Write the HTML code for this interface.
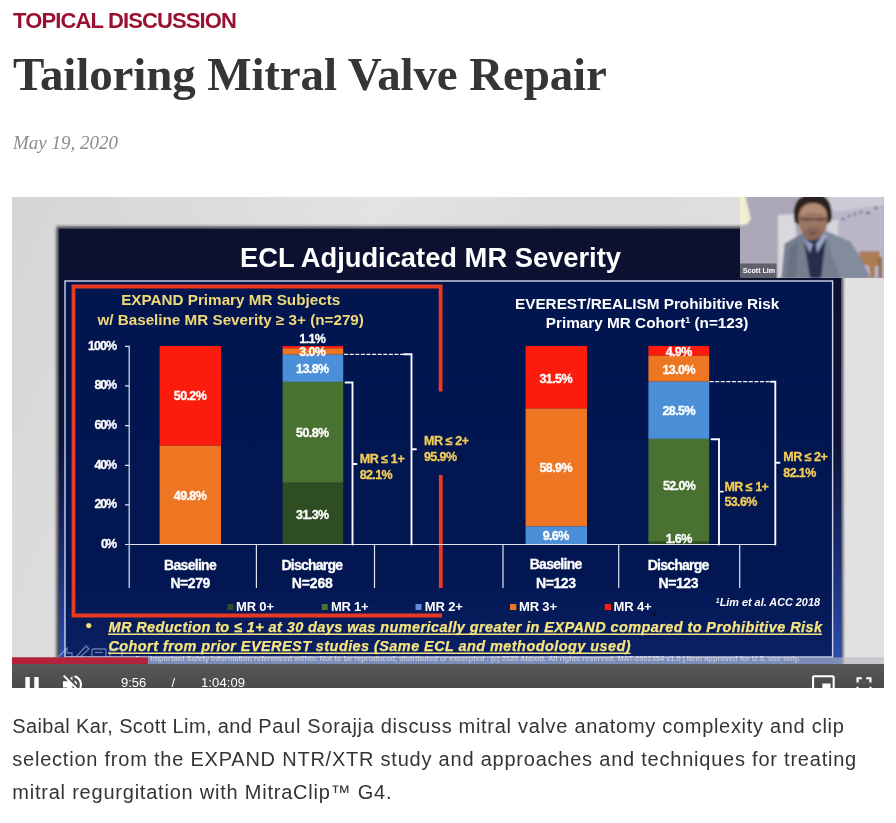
<!DOCTYPE html>
<html lang="en">
<head>
<meta charset="utf-8">
<title>Tailoring Mitral Valve Repair</title>
<style>
html,body{margin:0;padding:0;background:#fff;}
body{width:896px;height:823px;position:relative;overflow:hidden;font-family:"Liberation Sans",sans-serif;}
.abs{position:absolute;white-space:nowrap;}
#kicker{left:13px;top:8px;font-weight:bold;font-size:22px;line-height:26px;color:#9a1032;letter-spacing:-0.87px;}
#title{left:13px;top:46px;font-family:"Liberation Serif",serif;font-weight:bold;font-size:47px;line-height:56px;color:#353535;margin:0;letter-spacing:-0.13px;}
#date{left:13px;top:132px;font-family:"Liberation Serif",serif;font-style:italic;font-size:19px;line-height:22px;color:#8c8c8c;}
#video{position:absolute;left:12px;top:197px;width:872px;height:491px;overflow:hidden;background:#dcdbdb;}
#video svg{position:absolute;left:0;top:0;display:block;}
#desc{position:absolute;left:12.3px;top:710px;width:880px;margin:0;font-size:20px;line-height:33px;color:#343434;letter-spacing:0.7px;}
#desc span{display:block;white-space:nowrap;}#desc i{font-style:normal;letter-spacing:0.38px;}#desc .l2{letter-spacing:0.775px;}#desc .l3{letter-spacing:0.775px;}
</style>
</head>
<body>
<div id="kicker" class="abs">TOPICAL DISCUSSION</div>
<h1 id="title" class="abs">Tailoring Mitral Valve Repair</h1>
<div id="date" class="abs">May 19, 2020</div>
<div id="video">
<svg width="872" height="491" viewBox="12 197 872 491" font-family="Liberation Sans, sans-serif">
<defs>
<linearGradient id="bgG" x1="0" y1="0" x2="1" y2="0.25">
<stop offset="0" stop-color="#d6d5d5"/><stop offset="0.22" stop-color="#dddcdc"/><stop offset="0.4" stop-color="#e4e3e3"/><stop offset="0.6" stop-color="#dddcdc"/><stop offset="1" stop-color="#e2e1e1"/>
</linearGradient>
<linearGradient id="ctlG" x1="0" y1="0" x2="0" y2="1"><stop offset="0" stop-color="#575757"/><stop offset="1" stop-color="#4b4b4b"/></linearGradient>
<filter id="b2" x="-5%" y="-5%" width="110%" height="110%"><feGaussianBlur stdDeviation="1.6"/></filter>
<filter id="b1" x="-10%" y="-10%" width="120%" height="120%"><feGaussianBlur stdDeviation="0.9"/></filter>
<filter id="b05" x="-5%" y="-5%" width="110%" height="110%"><feGaussianBlur stdDeviation="0.45"/></filter>
<linearGradient id="frG" gradientUnits="userSpaceOnUse" x1="0" y1="229" x2="0" y2="660"><stop offset="0" stop-color="#0c1030"/><stop offset="0.5" stop-color="#0d1338"/><stop offset="0.75" stop-color="#182a6e"/><stop offset="1" stop-color="#2c4eac"/></linearGradient>
<linearGradient id="pnG" gradientUnits="userSpaceOnUse" x1="0" y1="281" x2="0" y2="657"><stop offset="0" stop-color="#01154f"/><stop offset="0.8" stop-color="#021652"/><stop offset="1" stop-color="#0a2164"/></linearGradient>
<clipPath id="camClip"><rect x="740" y="197" width="144" height="81"/></clipPath>
</defs>
<rect x="12" y="197" width="872" height="491" fill="url(#bgG)"/>
<!-- slide -->
<rect x="56.5" y="226.500" width="786.5" height="470" fill="#14162c" opacity="0.8" filter="url(#b2)"/>
<rect x="59" y="229" width="782" height="470" fill="url(#frG)"/>
<rect x="65" y="281" width="767.6" height="376" fill="url(#pnG)" stroke="#cfd6ea" stroke-width="1.4"/>
<g filter="url(#b05)">
<text x="240" y="267" font-size="27" font-weight="bold" fill="#fff" textLength="381" lengthAdjust="spacingAndGlyphs">ECL Adjudicated MR Severity</text>
<!-- red frame -->
<path d="M440.6 391.5V286.5H73.5V615.5H442" fill="none" stroke="#ea3a22" stroke-width="3.8" stroke-linejoin="miter"/>
<path d="M440.8 475V588" fill="none" stroke="#ea3a22" stroke-width="3.8"/>
<!-- headings -->
<g font-weight="bold" font-size="14.5" fill="#f2d978">
<text x="121.2" y="305" textLength="219" lengthAdjust="spacingAndGlyphs">EXPAND Primary MR Subjects</text>
<text x="97.4" y="324.5" textLength="266.5" lengthAdjust="spacingAndGlyphs">w/ Baseline MR Severity ≥ 3+ (n=279)</text>
</g>
<g font-weight="bold" font-size="14.5" fill="#fff">
<text x="515" y="308.5" textLength="264.3" lengthAdjust="spacingAndGlyphs">EVEREST/REALISM Prohibitive Risk</text>
<text x="545.8" y="327.5" textLength="202.7" lengthAdjust="spacingAndGlyphs">Primary MR Cohort<tspan font-size="8.5" dy="-5">1</tspan><tspan dy="5"> (n=123)</tspan></text>
</g>
<!-- bars left -->
<rect x="159.6" y="346" width="61.4" height="99.7" fill="#fb1c0c"/>
<rect x="159.6" y="445.7" width="61.4" height="98.8" fill="#ee7623"/>
<rect x="282.6" y="346" width="60.6" height="2.6" fill="#fb1c0c"/>
<rect x="282.6" y="348.4" width="60.6" height="6.3" fill="#ee7623"/>
<rect x="282.6" y="354.6" width="60.6" height="27.3" fill="#4c8fd9"/>
<rect x="282.6" y="381.8" width="60.6" height="101" fill="#4a7230"/>
<rect x="282.6" y="482.8" width="60.6" height="61.7" fill="#2f4e20"/>
<!-- bars right -->
<rect x="525.6" y="346" width="61.4" height="62.6" fill="#fb1c0c"/>
<rect x="525.6" y="408.5" width="61.4" height="118" fill="#ee7623"/>
<rect x="525.6" y="526.4" width="61.4" height="18.1" fill="#4c8fd9"/>
<rect x="648.4" y="346" width="60.8" height="9.8" fill="#fb1c0c"/>
<rect x="648.4" y="355.7" width="60.8" height="26" fill="#ee7623"/>
<rect x="648.4" y="381.7" width="60.8" height="57.2" fill="#4c8fd9"/>
<rect x="648.4" y="438.8" width="60.8" height="103" fill="#4a7230"/>
<rect x="648.4" y="541.5" width="60.8" height="3" fill="#2f4e20"/>
<!-- axes -->
<g stroke="#dfe3f2" stroke-width="1.2" fill="none">
<path d="M125 346.3H129.2V588"/>
<path d="M125 385.9H129.2M125 425.6H129.2M125 465.3H129.2M125 504.9H129.2M125 544.5H129.2"/>
<path d="M129.2 544.5H775.3"/>
<path d="M256.4 544.5V588M374.5 544.5V588M503 544.5V588M618.7 544.5V588M739.7 544.5V588"/>
</g>
<!-- brackets -->
<g stroke="#f6f8fd" stroke-width="1.9" fill="none" stroke-linecap="round">
<path d="M345.5 382.5H352.5V544.5M352.5 464H356.5"/>
<path d="M404 354.3H411.5V544.5M411.5 449.2H416"/>
<path d="M344.5 354.3H404" stroke-dasharray="3.2 2.4" stroke-width="1.2"/>
<path d="M711.5 439.3H719V544.5M719 491.6H723"/>
<path d="M771 381.7H775.3V544.5M775.3 462.7H779.5"/>
<path d="M710 381.7H771" stroke-dasharray="3.2 2.4" stroke-width="1.2"/>
</g>
<!-- axis labels -->
<g font-weight="bold" font-size="12.5" fill="#fff" stroke="#fff" stroke-width="0.3" text-anchor="end" lengthAdjust="spacingAndGlyphs" transform="translate(0 -0.7)">
<text x="117" y="350.6" textLength="29">100%</text>
<text x="117" y="390.2" textLength="22.5">80%</text>
<text x="117" y="429.9" textLength="22.5">60%</text>
<text x="117" y="469.6" textLength="22.5">40%</text>
<text x="117" y="509.2" textLength="22.5">20%</text>
<text x="117" y="548.8" textLength="16">0%</text>
</g>
<!-- bar labels -->
<g font-weight="bold" font-size="12.5" fill="#fff" stroke="#fff" stroke-width="0.3" text-anchor="middle" lengthAdjust="spacingAndGlyphs">
<text x="190.3" y="400.3" textLength="33">50.2%</text>
<text x="190.3" y="500" textLength="33">49.8%</text>
<text x="312.6" y="343" textLength="26.5">1.1%</text>
<text x="312.6" y="356.4" textLength="26.5">3.0%</text>
<text x="312.6" y="373" textLength="33">13.8%</text>
<text x="312.6" y="437" textLength="33">50.8%</text>
<text x="312.6" y="518.5" textLength="33">31.3%</text>
<text x="556" y="383" textLength="33">31.5%</text>
<text x="556" y="472" textLength="33">58.9%</text>
<text x="556" y="540.3" textLength="26.5">9.6%</text>
<text x="679" y="355.6" textLength="26.5">4.9%</text>
<text x="679" y="374" textLength="33">13.0%</text>
<text x="679" y="414.5" textLength="33">28.5%</text>
<text x="679.4" y="489.5" textLength="33">52.0%</text>
<text x="679" y="543" textLength="26.5">1.6%</text>
</g>
<!-- bracket labels -->
<g font-weight="bold" font-size="12.5" fill="#f3cd55" stroke="#f3cd55" stroke-width="0.3" lengthAdjust="spacingAndGlyphs">
<text x="424" y="445" textLength="45">MR ≤ 2+</text>
<text x="424" y="461" textLength="33">95.9%</text>
<text x="359.7" y="463" textLength="45">MR ≤ 1+</text>
<text x="359.7" y="479" textLength="33">82.1%</text>
<text x="783.3" y="460.7" textLength="44.5">MR ≤ 2+</text>
<text x="783.3" y="476.5" textLength="33">82.1%</text>
<text x="724.4" y="490.7" textLength="44.5">MR ≤ 1+</text>
<text x="724.4" y="506.2" textLength="33">53.6%</text>
</g>
<!-- category labels -->
<g font-weight="bold" font-size="14" fill="#fff" stroke="#fff" stroke-width="0.3" text-anchor="middle" lengthAdjust="spacingAndGlyphs">
<text x="190.4" y="569.5" textLength="52.7">Baseline</text>
<text x="190.4" y="588.2" textLength="40">N=279</text>
<text x="312.3" y="569.5" textLength="61.6">Discharge</text>
<text x="312.3" y="588.2" textLength="41">N=268</text>
<text x="556" y="569" textLength="52.7">Baseline</text>
<text x="556" y="587.7" textLength="40">N=123</text>
<text x="678.5" y="569.5" textLength="61.6">Discharge</text>
<text x="678.5" y="587.7" textLength="40">N=123</text>
</g>
<!-- legend -->
<g font-weight="bold" font-size="13" fill="#fff" lengthAdjust="spacingAndGlyphs">
<rect x="227.4" y="604" width="6" height="6" fill="#2f4e20"/><text x="236" y="611.4" textLength="38">MR 0+</text>
<rect x="321.7" y="604" width="6" height="6" fill="#4a7230"/><text x="331" y="611.4" textLength="37.6">MR 1+</text>
<rect x="415.5" y="604" width="6" height="6" fill="#5f8ad8"/><text x="424.8" y="611.4" textLength="38">MR 2+</text>
<rect x="510" y="604" width="6.3" height="6" fill="#ee7623"/><text x="519" y="611.4" textLength="38">MR 3+</text>
<rect x="604.7" y="604" width="6.3" height="6" fill="#fb1c0c"/><text x="613.6" y="611.4" textLength="38">MR 4+</text>
</g>
<text x="715.8" y="606" font-size="11" font-weight="bold" font-style="italic" fill="#fff" textLength="104.2" lengthAdjust="spacingAndGlyphs"><tspan font-size="7" dy="-3.5">1</tspan><tspan dy="3.5">Lim et al. ACC 2018</tspan></text>
<!-- bullet -->
<g font-weight="bold" font-style="italic" font-size="14.5" fill="#f7e47e" stroke="#f7e47e" stroke-width="0.25" lengthAdjust="spacingAndGlyphs">
<text x="85.8" y="631.1" font-style="normal" font-size="17">•</text>
<text x="108.4" y="631.8" textLength="713.6">MR Reduction to ≤ 1+ at 30 days was numerically greater in EXPAND compared to Prohibitive Risk</text>
<text x="108.4" y="650.8" textLength="522.1">Cohort from prior EVEREST studies (Same ECL and methodology used)</text>
</g>
<path d="M108 634.2H822M108 653.3H630.500" stroke="#f6e27a" stroke-width="1.500" fill="none"/>
<text x="135" y="661" font-size="6.6" font-weight="bold" fill="#e8ecf8" opacity="0.85" textLength="665" lengthAdjust="spacingAndGlyphs">See Important Safety Information referenced within. Not to be reproduced, distributed or excerpted . (c) 2020 Abbott. All rights reserved. MAT-2002354 v1.0 | Item approved for U.S. use only.</text>
</g>
<g fill="none" stroke="#c8d2f0" stroke-width="1.3" opacity="0.5">
<path d="M58 657L67 648V653H72V657"/><path d="M76 657L86 646L89 649L80 657"/><rect x="92" y="649" width="14" height="9" rx="1"/><path d="M95 652.500H103"/><rect x="110" y="649" width="12" height="9" rx="2"/>
</g>
<path d="M653 611.500L653 616L654.200 615L655.200 617L656 616.600L655 614.700L656.500 614.600Z" fill="#0a0a14" opacity="0.85"/>
<g clip-path="url(#camClip)"><g transform="translate(740 197)">
<rect x="0" y="0" width="144" height="81" fill="#aca8b8"/>
<g filter="url(#b1)">
<polygon points="88,0 144,0 144,81 100,81 96,30" fill="#bbb7c9"/>
<polygon points="58,-2 144,-2 144,8 98,14 72,9" fill="#cfcbd5"/>
<polygon points="-2,-2 5,-2 11,22 7,27.5 -2,28.5" fill="#f3efd2"/>
<polygon points="38,18 55,17 57,50 45,60 41,81 38,81" fill="#dad8df"/>
<rect x="87" y="23" width="11" height="15" fill="#d6d3da"/>
<polygon points="119,54.5 139.500,54 139.500,69 135,69 135,81 130.500,81 129,69 121,67" fill="#ab7d53"/>
<rect x="138.500" y="60" width="3.500" height="21" fill="#8c6a4c"/>
<polygon points="41.400,81 44.700,46.500 60,37.500 68,35 88,35 110.500,45 122,63 130,81" fill="#747e8e"/>
<polygon points="86,38 91,36 110.500,45 122,63 130,81 100,81 92,58" fill="#828c9d"/>
<polygon points="50,50 58,44 56,81 46,81" fill="#687282"/>
<polygon points="64,44 86,40 81,81 70,81" fill="#262e4b"/>
<polygon points="63,42 70,56 73,47" fill="#8f9cc0"/>
<polygon points="77,56 88,38 84,36 76,47" fill="#97a4c6"/>
<path d="M54.500 25C51 7 61 -4 73 -4C87 -4 94 7 91 24C88 30 59 31 54.500 25Z" fill="#2a211b"/>
<path d="M58.500 22C58 12 63 6 73 6C83 6 88 12 87.500 22C87.500 32 82 42.500 73 42.500C64 42.500 58.500 32 58.500 22Z" fill="#9c7462"/>
<path d="M60.500 19C62 9.500 67 6.500 73.500 6.500C80 6.500 85 10 86.500 19C80 14.500 68 14.500 60.500 19Z" fill="#b48c76"/>
<ellipse cx="73" cy="36.500" rx="9.500" ry="6.500" fill="#8a6558"/>
<rect x="60" y="21.500" width="27" height="1.600" fill="#4a3c3a" opacity="0.85"/>
<ellipse cx="66.500" cy="22.500" rx="3.200" ry="1.500" fill="#5a4540" opacity="0.7"/><ellipse cx="80" cy="22.500" rx="3.200" ry="1.500" fill="#5a4540" opacity="0.7"/>
<ellipse cx="73" cy="36.300" rx="3.500" ry="0.9" fill="#5c4038"/>
<g fill="#5a556a"><ellipse cx="103" cy="22" rx="2" ry="1"/><ellipse cx="109" cy="19" rx="1.600" ry="0.9"/><ellipse cx="115" cy="17" rx="1.600" ry="0.9"/><ellipse cx="121" cy="15.500" rx="1.600" ry="0.9"/><ellipse cx="128" cy="16" rx="2" ry="1.200"/><ellipse cx="136" cy="11" rx="2" ry="0.9"/></g>
</g>
<rect x="0" y="66.500" width="36.500" height="14.500" fill="#50505f" opacity="0.82"/>
<text x="2.700" y="76.300" font-size="7.600" font-weight="bold" fill="#fff" textLength="32.500" lengthAdjust="spacingAndGlyphs" filter="url(#b05)">Scott Lim</text>
</g></g>

<!-- controls -->
<rect x="12" y="657.3" width="872" height="6.800" fill="#b4b7c2" opacity="0.6"/>
<rect x="12" y="657.3" width="136" height="6.800" fill="#b4213b"/>
<rect x="12" y="664" width="872" height="24" fill="url(#ctlG)"/>
<g fill="#fff">
<path transform="translate(18.7 671.45) scale(1.11)" d="M6 19h4V5H6v14zm8-14v14h4V5h-4z"/>
<path transform="translate(59.8 671.8) scale(1.055)" d="M16.5 12c0-1.77-1.02-3.29-2.5-4.03v2.21l2.45 2.45c.03-.2.05-.41.05-.63zm2.5 0c0 .94-.2 1.82-.54 2.64l1.51 1.51C20.63 14.91 21 13.5 21 12c0-4.28-2.99-7.86-7-8.77v2.06c2.89.86 5 3.54 5 6.71zM4.27 3L3 4.27 7.73 9H3v6h4l5 5v-6.73l4.25 4.25c-.67.52-1.42.93-2.25 1.18v2.06c1.38-.31 2.63-.95 3.69-1.81L19.73 21 21 19.73l-9-9L4.27 3zM12 4L9.91 6.09 12 8.18V4z"/>

<g font-size="13" lengthAdjust="spacingAndGlyphs">
<text x="121" y="687.1" textLength="25.3">9:56</text>
<text x="171.5" y="687.1">/</text>
<text x="201" y="687.1" textLength="44">1:04:09</text>
</g>
<path transform="translate(811 672.1) scale(1.03)" d="M19 11h-8v6h8v-6zm4 8V4.980C23 3.880 22.100 3 21 3H3c-1.100 0-2 .880-2 1.980V19c0 1.100.9 2 2 2h18c1.100 0 2-.9 2-2zm-2 .020H3V4.970h18v14.050z"/><path transform="translate(851.15 671.85) scale(1.07)" d="M7 14H5v5h5v-2H7v-3zm-2-4h2V7h3V5H5v5zm12 7h-3v2h5v-5h-2v3zM14 5v2h3v3h2V5h-5z"/>
</g>

</svg>
</div>
<p id="desc"><span><i>Saibal Kar, Scott Lim, and </i>Paul Sorajja discuss mitral valve anatomy complexity and clip</span><span class="l2">selection from the EXPAND NTR/XTR study and approaches and techniques for treating</span><span class="l3">mitral regurgitation with MitraClip™ G4.</span></p>
</body>
</html>
